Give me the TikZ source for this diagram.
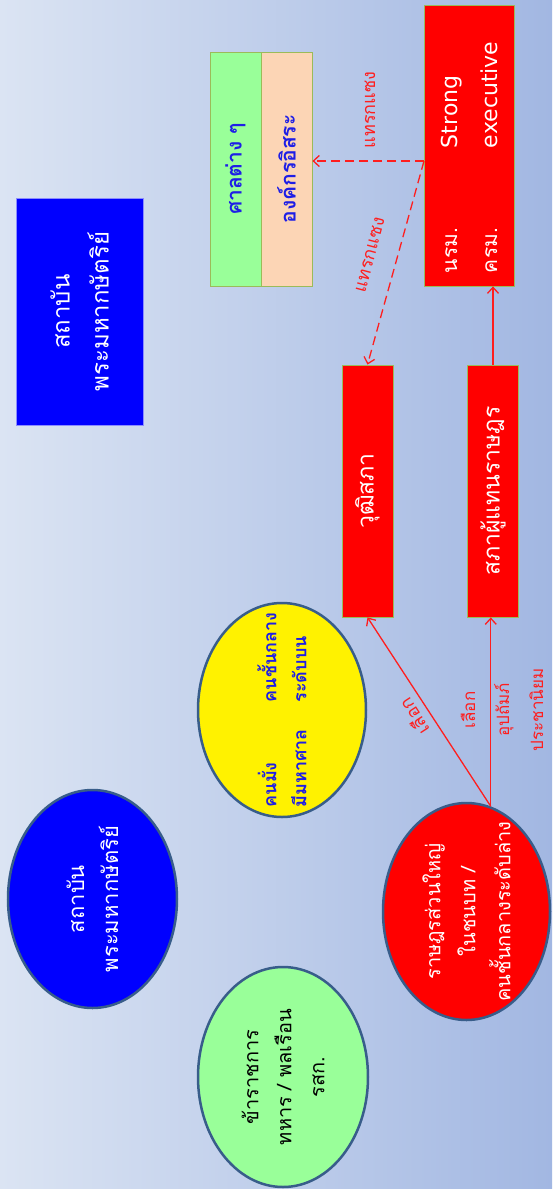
\documentclass[tikz,border=0pt]{standalone}
\usepackage{fontspec}
\setmainfont{Loma}[Script=Thai]
\newfontfamily\latinfont{DejaVu Sans}
\usetikzlibrary{shapes.geometric,arrows.meta}

\definecolor{bgtop}{RGB}{219,228,243}
\definecolor{bgbot}{RGB}{162,183,226}
\definecolor{boxline}{RGB}{155,187,89}
\definecolor{ovalline}{RGB}{56,93,138}
\definecolor{courtgreen}{RGB}{153,255,153}
\definecolor{peach}{RGB}{252,213,181}
\definecolor{tagred}{RGB}{255,30,30}
\definecolor{textblue}{RGB}{30,30,230}

\tikzset{
  box/.style={rectangle, rotate=90, draw=boxline, line width=0.8pt, inner sep=0pt, align=center},
  redbox/.style={box, fill=red, text=white, font=\fontsize{23}{40}\selectfont},
  panel/.style={box, minimum width=234pt, minimum height=51pt, text=textblue, font=\bfseries\fontsize{21}{24}\selectfont},
  oval/.style={ellipse, rotate=90, draw=ovalline, line width=2.5pt, inner sep=0pt, align=center},
  tag/.style={text=tagred, inner sep=0pt, align=center, font=\fontsize{18}{35}\selectfont},
  link/.style={->, draw=tagred, line width=1.3pt},
  meddle/.style={link, dash pattern=on 9pt off 5pt}
}

\begin{document}
\begin{tikzpicture}[x=1pt, y=-1pt, >={Straight Barb[length=6pt, width=11pt]}]
\shade[left color=bgtop, right color=bgbot] (0,0) rectangle (552,1189);
\useasboundingbox (0,0) rectangle (552,1189);

\node[redbox, minimum width=281pt, minimum height=90pt, inner xsep=13pt, text width=255pt, align=left, font=\fontsize{21}{40}\selectfont] (exec) at (469,145.5) {\makebox[125pt][l]{นรม.}{\latinfont\fontsize{22}{40}\selectfont Strong}\\\makebox[125pt][l]{ครม.}{\latinfont\fontsize{22}{40}\selectfont executive}};
\node[panel, fill=courtgreen] (court) at (235.5,169) {ศาลต่าง ๆ};
\node[panel, fill=peach] (agency) at (286.5,169) {องค์กรอิสระ};

\node[box, draw=blue!45!white, fill=blue, text=white, minimum width=227pt, minimum height=127pt, font=\fontsize{24}{39}\selectfont] (king1) at (79.5,311.5) {สถาบัน\\พระมหากษัตริย์};

\node[redbox, minimum width=252pt, minimum height=51pt] (senate) at (367.5,491) {วุฒิสภา};
\node[redbox, minimum width=252pt, minimum height=51pt] (house) at (493,491) {สภาผู้แทนราษฎร};

\node[oval, fill=yellow, text=textblue, minimum width=214pt, minimum height=168pt, inner sep=-25pt, align=left, font=\bfseries\fontsize{18}{30}\selectfont] (rich) at (282,710) {\makebox[105pt][l]{คนมั่ง}คนชั้นกลาง\\\makebox[105pt][l]{มีมหาศาล}ระดับบน};
\node[oval, fill=red, text=white, minimum width=217pt, minimum height=167pt, inner sep=-15pt, font=\fontsize{20}{35}\selectfont] (people) at (466.5,911.5) {ราษฎรส่วนใหญ่\\ในชนบท /\\คนชั้นกลางระดับล่าง};
\node[oval, fill=blue, text=white, minimum width=218pt, minimum height=169pt, font=\fontsize{22}{34}\selectfont] (king2) at (92.5,899) {สถาบัน\\พระมหากษัตริย์};
\node[oval, fill=courtgreen, text=black, minimum width=220pt, minimum height=170pt, font=\fontsize{20}{33}\selectfont] (officials) at (283,1077) {ข้าราชการ\\ทหาร / พลเรือน\\รสก.};

\coordinate (junc) at (424,161);
\draw[meddle] (junc) -- (junc -| agency.south);
\draw[meddle] (junc) -- (senate.east);
\draw[link] (house.east) -- (house.east |- exec.west);
\draw[link] (people.-13) -- (people.-13 |- house.west);
\draw[link] (people.-13) -- (senate.west);

\node[tag, rotate=90] (meddle1) at (370,110) {แทรกแซง};
\node[tag, rotate=75] (meddle2) at (370,255) {แทรกแซง};
\node[tag, rotate=122.9] (vote1) at (413.5,717) {เลือก};
\node[tag, rotate=90, font=\fontsize{17}{34}\selectfont] (vote2) at (502,710) {เลือก\\อุปถัมภ์\\ประชานิยม};
\end{tikzpicture}
\end{document}
